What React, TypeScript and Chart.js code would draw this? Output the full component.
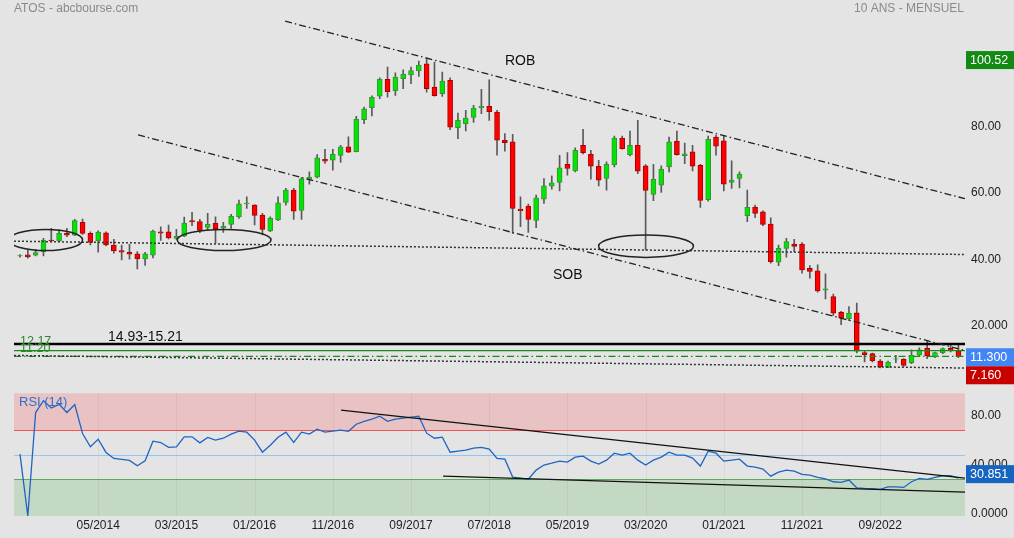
import React, { useEffect, useRef } from "react";
import { Chart, registerables } from "chart.js";

Chart.register(...registerables);

const FONT = "'Liberation Sans', Arial, Helvetica, sans-serif";

// Monthly candles, 07/2013 .. 07/2023 (index 0..120)
const openPrices = [
  41.0, 41.3, 41.2, 42.3, 45.8, 45.5, 47.8, 47.3, 51.15, 47.83,
  45.5, 48.0, 44.3, 42.6, 42.1, 41.6, 40.1, 41.2, 48.3, 48.3,
  46.3, 47.0, 51.65, 51.35, 49.64, 50.85, 49.44, 50.55, 52.75, 56.8,
  56.37, 53.36, 48.53, 51.85, 57.17, 60.89, 54.76, 64.11, 64.81, 70.24,
  69.94, 71.35, 73.96, 72.55, 82.2, 85.82, 89.33, 94.36, 90.94, 94.56,
  95.76, 96.97, 99.08, 92.05, 90.04, 94.06, 79.79, 81.0, 82.9, 85.82,
  86.22, 84.51, 75.96, 75.46, 55.16, 56.06, 51.74, 58.17, 62.09, 63.2,
  68.72, 66.71, 74.45, 71.74, 68.12, 64.4, 68.62, 76.66, 71.64, 74.45,
  68.22, 59.58, 62.39, 67.92, 75.66, 71.34, 72.44, 68.42, 57.97, 76.96,
  75.76, 63.2, 64.4, 53.15, 55.76, 54.35, 50.64, 39.08, 43.3, 44.6,
  44.6, 37.27, 36.47, 30.64, 28.73, 23.9, 22.0, 23.8, 11.73, 11.43,
  9.22, 7.3, 9.8, 9.72, 8.71, 11.02, 13.14, 10.42, 11.73, 13.04,
  12.33,
];
const highPrices = [
  41.4, 42.8, 43.0, 46.3, 49.3, 48.8, 49.3, 52.05, 52.15, 48.3,
  48.6, 48.3, 46.0, 44.3, 44.5, 42.3, 42.1, 48.8, 49.8, 50.3,
  49.0, 52.75, 54.16, 52.05, 53.86, 52.85, 51.15, 53.56, 57.88, 58.88,
  56.5, 53.86, 52.85, 58.88, 61.4, 61.4, 64.71, 66.42, 71.65, 73.25,
  73.25, 74.46, 76.97, 83.2, 86.02, 89.43, 94.86, 98.08, 96.37, 97.27,
  98.08, 99.88, 100.52, 99.58, 96.57, 94.86, 84.21, 85.01, 86.52, 91.34,
  94.26, 85.01, 77.97, 77.77, 58.87, 56.66, 59.38, 64.4, 65.21, 71.44,
  72.24, 73.65, 79.27, 72.94, 69.93, 69.43, 77.27, 77.27, 78.77, 82.0,
  68.6, 68.72, 68.22, 76.96, 78.77, 75.15, 74.45, 68.72, 77.27, 77.47,
  77.47, 69.73, 66.41, 60.88, 56.36, 54.66, 52.54, 44.3, 46.31, 46.01,
  45.0, 38.07, 38.28, 35.56, 29.43, 24.21, 25.71, 26.71, 12.23, 11.63,
  9.62, 9.22, 10.92, 9.92, 12.63, 13.24, 15.15, 11.93, 13.24, 14.45,
  14.14,
];
const lowPrices = [
  40.6, 40.3, 41.0, 41.0, 45.2, 45.2, 46.8, 47.1, 47.5, 44.3,
  42.1, 44.0, 41.8, 39.8, 40.0, 37.1, 38.1, 40.4, 45.7, 46.1,
  46.0, 46.8, 50.14, 48.03, 48.84, 44.82, 48.13, 49.34, 52.35, 55.37,
  50.34, 47.33, 48.33, 51.65, 56.37, 52.05, 52.05, 62.7, 64.61, 68.93,
  66.92, 69.24, 72.25, 72.45, 80.99, 83.3, 88.53, 89.03, 89.53, 91.54,
  93.05, 95.26, 90.54, 89.33, 89.23, 79.18, 76.47, 78.78, 81.39, 84.0,
  82.0, 71.45, 72.64, 47.82, 49.83, 48.12, 49.53, 56.87, 61.19, 60.68,
  65.41, 66.41, 71.84, 64.2, 62.19, 60.88, 67.92, 73.25, 71.24, 65.9,
  42.8, 57.67, 60.18, 66.41, 71.44, 68.92, 66.71, 55.66, 57.57, 71.44,
  60.68, 61.39, 61.59, 51.34, 52.54, 50.13, 38.78, 38.07, 40.59, 42.29,
  35.76, 34.25, 30.03, 28.02, 23.0, 20.19, 21.39, 11.63, 8.91, 8.91,
  7.16, 7.2, 8.71, 7.61, 8.41, 10.62, 9.92, 10.22, 11.43, 11.93,
  10.22,
];
const closePrices = [
  41.1, 40.7, 42.0, 45.8, 45.5, 47.8, 47.3, 51.65, 47.83, 45.1,
  48.2, 44.3, 42.5, 42.1, 41.5, 40.1, 41.6, 48.5, 47.9, 46.4,
  46.9, 50.95, 51.25, 48.73, 50.55, 49.24, 50.04, 52.95, 56.77, 57.0,
  53.26, 49.04, 52.35, 57.07, 60.89, 54.56, 64.31, 64.81, 70.64, 69.64,
  71.75, 73.96, 72.35, 82.4, 85.51, 88.93, 94.36, 90.64, 95.06, 95.87,
  97.07, 98.68, 91.54, 89.43, 93.85, 79.89, 81.99, 82.7, 85.72, 86.22,
  84.61, 75.97, 75.25, 55.36, 54.66, 52.04, 58.57, 62.19, 63.1, 67.62,
  67.42, 72.94, 72.24, 68.12, 63.9, 68.72, 76.66, 73.45, 74.45, 66.61,
  60.79, 64.2, 67.22, 75.46, 71.64, 71.84, 68.12, 57.77, 76.26, 74.15,
  62.69, 63.9, 65.71, 55.66, 53.85, 50.54, 39.28, 43.3, 45.31, 43.9,
  36.77, 36.27, 30.44, 31.04, 23.7, 22.2, 23.7, 12.23, 11.13, 9.22,
  7.4, 8.91, 9.9, 7.91, 10.92, 12.63, 10.72, 11.73, 12.94, 12.43,
  10.5,
];
const rsiValues = [
  50.4, 0, 84.3, 94, 88, 91, 84.3, 90.8, 67.2, 56.4,
  62.6, 51.8, 46.9, 46.1, 45.3, 40.9, 45, 61, 59.9, 55.9,
  56.4, 64.5, 64.5, 59.6, 64, 61.8, 63.4, 66.7, 69.1, 68.3,
  61.8, 52, 57.7, 64.2, 68.3, 60, 68.3, 66.7, 70.7, 68.3,
  69.1, 70, 69, 74.8, 77.2, 78.9, 81.3, 77.2, 78.9, 79.7,
  80.5, 81.3, 67.5, 63.4, 64.2, 52, 52.8, 53.7, 55.3, 56,
  54.5, 47, 46.3, 31.7, 30.9, 30, 37.4, 41.5, 43, 44.7,
  43.9, 48, 48.8, 44.7, 42.3, 45.5, 51.2, 49.6, 51.2, 45.5,
  41.5, 45.5, 48, 52, 49.6, 49.6, 47.2, 40.7, 52.8, 51.2,
  44.7, 45.5, 46.3, 40.7, 39.8, 38.2, 32.5, 35.8, 37.4, 36.6,
  33.9, 33.3, 31.4, 30.3, 27.9, 27.4, 29.3, 23, 22.5, 22.2,
  21.7, 23.8, 23.8, 23.3, 27.9, 30.6, 29.8, 31.5, 32.8, 32.8,
  30.85,
];

const xTickIndex = [10, 20, 30, 40, 50, 60, 70, 80, 90, 100, 110];
const xTickLabels = ["05/2014", "03/2015", "01/2016", "11/2016", "09/2017", "07/2018", "05/2019", "03/2020", "01/2021", "11/2021", "09/2022"];
const priceTicks = [20, 40, 60, 80];
const priceTickLabels = ["20.000", "40.00", "60.00", "80.00"];
const rsiTicks = [0, 40, 80];
const rsiTickLabels = ["0.0000", "40.000", "80.00"];

const maxHighText = "100.52";
const lastCloseText = "11.300";
const minLowText = "7.160";
const lastRsiText = "30.851";

// Drawn annotations, in data units: [x1, y1, x2, y2]
const robLine = [33.9, 112.0, 120.84, 58.3];
const sobLine = [15.1, 77.6, 120.84, 12.4];
const supportDotted = [-0.77, 45.45, 120.84, 41.42];
const bottomDotted = [-0.77, 10.9, 120.84, 7.09];
const zoneLevel = 14.33;
const greenLevel = 12.34;
const greenDashLevel = 10.62;
const rsiUpperTrend = [41.05, 86.2, 120.84, 30.9];
const rsiLowerTrend = [54.1, 32.5, 120.84, 19.5];
const rsiLevels = [70, 50, 30];
// ellipses: centre x (month index), centre price, radius in months, radius in price
const ellipses = [
  [3.3, 45.8, 4.7, 3.2],
  [26.1, 45.8, 6.0, 3.2],
  [80.05, 43.95, 6.07, 3.4],
];

const X_MIN = -0.767;
const X_MAX = 120.84;
const Y_MIN = -37.65;
const Y_MAX = 114.39;
const RSI_MAX = 409.76;

export default function App() {
  const ref = useRef<HTMLCanvasElement>(null);

  useEffect(() => {
    const canvas = ref.current;
    if (!canvas) return;
    const ctx = canvas.getContext("2d");
    if (!ctx) return;

    const idx = openPrices.map((_, i) => i);
    const up = idx.map((i) => closePrices[i] >= openPrices[i]);

    const seg = (l: number[], color: string, width: number, dash: number[], axis = "y") => ({
      type: "line" as const,
      data: [
        { x: l[0], y: l[1] },
        { x: l[2], y: l[3] },
      ],
      borderColor: color,
      borderWidth: width,
      borderDash: dash,
      pointRadius: 0,
      yAxisID: axis,
      order: 0,
      fill: false,
      tension: 0,
    });

    const DASHDOT = [7, 3, 1.5, 3];

    const bgPlugin = {
      id: "bg",
      beforeDraw(chart: any) {
        const c = chart.ctx;
        c.save();
        c.fillStyle = "#e4e4e4";
        c.fillRect(0, 0, chart.width, chart.height);
        c.restore();
      },
      beforeDatasetsDraw(chart: any) {
        const c = chart.ctx;
        const r = chart.scales.rsi;
        const xs = chart.scales.x;
        const { left, right } = chart.chartArea;
        const w = right - left;
        const yr = (v: number) => r.getPixelForValue(v);
        c.save();
        c.fillStyle = "#e9c3c3";
        c.fillRect(left, yr(100), w, yr(70) - yr(100));
        c.fillStyle = "#c4d9c4";
        c.fillRect(left, yr(30), w, yr(0) - yr(30));
        // faint vertical grid in RSI panel
        c.strokeStyle = "rgba(0,0,0,0.05)";
        c.lineWidth = 1;
        xTickIndex.forEach((v) => {
          const x = Math.round(xs.getPixelForValue(v)) + 0.5;
          c.beginPath();
          c.moveTo(x, yr(100));
          c.lineTo(x, yr(0));
          c.stroke();
        });
        const lvlColors = ["#f05555", "#8ec6f6", "#5fa85f"];
        rsiLevels.forEach((lv, k) => {
          const y = Math.round(yr(lv)) + 0.5;
          c.strokeStyle = lvlColors[k];
          c.lineWidth = 1.2;
          c.beginPath();
          c.moveTo(left, y);
          c.lineTo(right, y);
          c.stroke();
        });
        c.restore();
      },
      afterDatasetsDraw(chart: any) {
        const c = chart.ctx;
        const xs = chart.scales.x;
        const ys = chart.scales.y;
        const { left, right, top, bottom } = chart.chartArea;
        c.save();
        c.beginPath();
        c.rect(left, top, right - left, bottom - top);
        c.clip();
        c.strokeStyle = "#222";
        c.lineWidth = 1.5;
        ellipses.forEach((e) => {
          const cx = xs.getPixelForValue(e[0]);
          const cy = ys.getPixelForValue(e[1]);
          const rx = Math.abs(xs.getPixelForValue(e[0] + e[2]) - cx);
          const ry = Math.abs(ys.getPixelForValue(e[1] + e[3]) - cy);
          c.beginPath();
          c.ellipse(cx, cy, rx, ry, 0, 0, Math.PI * 2);
          c.stroke();
        });
        c.restore();
      },
      afterDraw(chart: any) {
        const c = chart.ctx;
        const ys = chart.scales.y;
        const r = chart.scales.rsi;
        const { right } = chart.chartArea;
        c.save();
        c.textBaseline = "middle";
        // titles
        c.font = `12px ${FONT}`;
        c.fillStyle = "#8a8a8a";
        c.textAlign = "left";
        c.fillText("ATOS - abcbourse.com", 14, 9);
        c.textAlign = "right";
        c.fillText("10 ANS - MENSUEL", 964, 9);
        // annotations text
        c.textAlign = "left";
        c.fillStyle = "#111";
        c.font = `14px ${FONT}`;
        c.fillText("ROB", 505, 61);
        c.fillText("SOB", 553, 275);
        c.fillText("14.93-15.21", 108, 337);
        c.fillStyle = "#2a8a2a";
        c.font = `12.5px ${FONT}`;
        c.fillText("12.17", 20, 342);
        c.fillText("11.20", 20, 348.5);
        c.fillStyle = "#2f6fd0";
        c.font = `13px ${FONT}`;
        c.fillText("RSI (14)", 19, 402);
        // RSI tick labels
        c.fillStyle = "#222";
        c.font = `12px ${FONT}`;
        rsiTicks.forEach((v, k) => {
          c.fillText(rsiTickLabels[k], right + 6, r.getPixelForValue(v) - 2);
        });
        // value boxes
        const box = (text: string, cy: number, bg: string) => {
          const h = 18;
          c.fillStyle = bg;
          c.fillRect(right + 1, cy - h / 2, chart.width - right - 1, h);
          c.fillStyle = "#fff";
          c.font = `12.5px ${FONT}`;
          c.fillText(text, right + 5, cy + 0.5);
        };
        const maxHigh = Math.max(...highPrices);
        const minLow = Math.min(...lowPrices);
        const lastClose = closePrices[closePrices.length - 1];
        const lastRsi = rsiValues[rsiValues.length - 1];
        box(maxHighText, ys.getPixelForValue(maxHigh) + 1, "#138a13");
        const blueY = ys.getPixelForValue(lastClose) + 0.5;
        box(lastCloseText, blueY, "#4285f4");
        box(minLowText, Math.max(ys.getPixelForValue(minLow), blueY + 18), "#c80000");
        box(lastRsiText, r.getPixelForValue(lastRsi) - 4, "#1565c0");
        c.restore();
      },
    };

    const chart = new Chart(ctx, {
      type: "bar",
      data: {
        datasets: [
          seg(robLine, "#222", 1.3, DASHDOT),
          seg(sobLine, "#222", 1.3, DASHDOT),
          seg(supportDotted, "#333", 1.5, [2, 2]),
          seg(bottomDotted, "#333", 1.5, [2, 2]),
          seg([X_MIN, zoneLevel, X_MAX, zoneLevel], "#000", 2.5, []),
          seg([X_MIN, greenLevel, X_MAX, greenLevel], "#1a8a1a", 1.3, []),
          seg([X_MIN, greenDashLevel, X_MAX, greenDashLevel], "#1a8a1a", 1.3, DASHDOT),
          seg(rsiUpperTrend, "#111", 1.3, [], "rsi"),
          seg(rsiLowerTrend, "#111", 1.3, [], "rsi"),
          {
            type: "line" as const,
            data: idx.map((i) => ({ x: i, y: rsiValues[i] })),
            borderColor: "#1f64c4",
            borderWidth: 1.3,
            pointRadius: 0,
            yAxisID: "rsi",
            order: 1,
            fill: false,
            tension: 0,
          },
          {
            type: "bar" as const,
            data: idx.map((i) => ({ x: i, y: [lowPrices[i], highPrices[i]] })),
            backgroundColor: "#5a5a5a",
            borderWidth: 0,
            barThickness: 1,
            grouped: false,
            yAxisID: "y",
            order: 3,
          },
          {
            type: "bar" as const,
            data: idx.map((i) => ({ x: i, y: [openPrices[i], closePrices[i]] })),
            backgroundColor: idx.map((i) => (up[i] ? "#00e600" : "#ff0000")),
            borderColor: idx.map((i) => (up[i] ? "#3a8f3a" : "#a80000")),
            borderWidth: 1,
            borderSkipped: false,
            barThickness: 5,
            grouped: false,
            yAxisID: "y",
            order: 2,
          },
        ] as any,
      },
      options: {
        animation: false,
        responsive: false,
        devicePixelRatio: 1,
        layout: { padding: { left: 14, top: 12, right: 0, bottom: 0 } },
        plugins: { legend: { display: false }, tooltip: { enabled: false } },
        scales: {
          x: {
            type: "linear",
            offset: false,
            min: X_MIN,
            max: X_MAX,
            position: "bottom",
            grid: { display: false, drawTicks: false, offset: false },
            border: { display: false },
            afterBuildTicks: (axis: any) => {
              axis.ticks = xTickIndex.map((v) => ({ value: v }));
            },
            afterFit: (axis: any) => {
              axis.height = 22;
            },
            ticks: {
              autoSkip: false,
              maxRotation: 0,
              padding: 2,
              color: "#222",
              font: { family: FONT, size: 12 },
              callback: (v: any) => {
                const k = xTickIndex.indexOf(Number(v));
                return k >= 0 ? xTickLabels[k] : "";
              },
            },
          },
          y: {
            type: "linear",
            position: "right",
            min: Y_MIN,
            max: Y_MAX,
            grid: { display: false, drawTicks: false },
            border: { display: false },
            afterBuildTicks: (axis: any) => {
              axis.ticks = priceTicks.map((v) => ({ value: v }));
            },
            afterFit: (axis: any) => {
              axis.width = 49;
            },
            ticks: {
              padding: 6,
              color: "#222",
              font: { family: FONT, size: 12 },
              callback: (v: any) => {
                const k = priceTicks.indexOf(Number(v));
                return k >= 0 ? priceTickLabels[k] : "";
              },
            },
          },
          rsi: {
            type: "linear",
            position: "right",
            min: 0,
            max: RSI_MAX,
            grid: { display: false, drawTicks: false },
            border: { display: false },
            ticks: { display: false },
            afterBuildTicks: (axis: any) => {
              axis.ticks = [];
            },
            afterFit: (axis: any) => {
              axis.width = 0;
            },
          },
        },
      } as any,
      plugins: [bgPlugin],
    });

    return () => chart.destroy();
  }, []);

  return (
    <div style={{ position: "absolute", left: 0, top: 0, width: 1014, height: 538, background: "#e4e4e4" }}>
      <canvas ref={ref} width={1014} height={538} style={{ display: "block", width: 1014, height: 538 }} />
    </div>
  );
}
